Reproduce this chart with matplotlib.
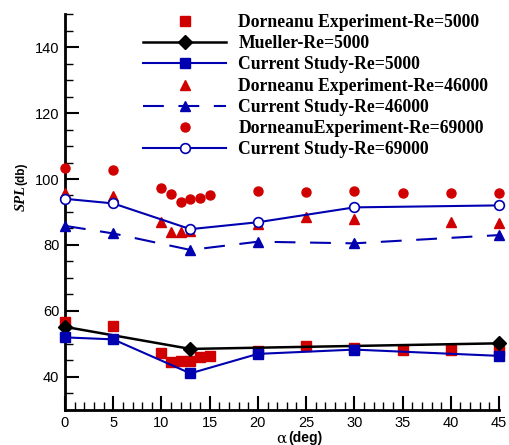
import matplotlib
matplotlib.use("Agg")
import matplotlib.pyplot as plt
from matplotlib.ticker import MultipleLocator

RED = "#d00000"
BLUE = "#0000b0"

# Re = 5000
exp5_alpha = [0, 5, 10, 11, 12, 13, 14, 15, 20, 25, 30, 35, 40, 45]
exp5_spl = [56.8, 55.4, 47.4, 44.4, 44.8, 44.8, 46.0, 46.3, 48.0, 49.3, 48.7, 48.2, 48.3, 48.0]
mueller_alpha = [0, 13, 45]
mueller_spl = [55.2, 48.5, 50.2]
cur5_alpha = [0, 5, 13, 20, 30, 45]
cur5_spl = [52.0, 51.4, 41.1, 47.0, 48.3, 46.4]

# Re = 46000
exp46_alpha = [0, 5, 10, 11, 12, 13, 20, 25, 30, 40, 45]
exp46_spl = [95.7, 94.8, 87.1, 84.0, 84.0, 84.3, 86.5, 88.6, 87.8, 87.1, 86.8]
cur46_alpha = [0, 5, 13, 20, 30, 45]
cur46_spl = [85.8, 83.5, 78.5, 81.0, 80.5, 83.0]

# Re = 69000
exp69_alpha = [0, 5, 10, 11, 12, 13, 14, 15, 20, 25, 30, 35, 40, 45]
exp69_spl = [103.2, 102.7, 97.4, 95.4, 93.0, 93.9, 94.2, 95.2, 96.5, 96.2, 96.4, 95.7, 95.7, 95.8]
cur69_alpha = [0, 5, 13, 20, 30, 45]
cur69_spl = [94.0, 92.6, 84.8, 86.9, 91.4, 92.0]

fig = plt.figure(figsize=(5.09, 4.45), dpi=100)
ax = fig.add_axes([0.1277, 0.0787, 0.8527, 0.8898])

ax.plot(exp5_alpha, exp5_spl, ls="none", marker="s", ms=7, color=RED,
        label="Dorneanu Experiment-Re=5000", clip_on=False, zorder=3)
ax.plot(mueller_alpha, mueller_spl, color="black", lw=1.8, marker="D", ms=7,
        label="Mueller-Re=5000", clip_on=False, zorder=4)
ax.plot(cur5_alpha, cur5_spl, color=BLUE, lw=1.5, marker="s", ms=7,
        label="Current Study-Re=5000", clip_on=False, zorder=4)
ax.plot(exp46_alpha, exp46_spl, ls="none", marker="^", ms=7, color=RED,
        label="Dorneanu Experiment-Re=46000", clip_on=False, zorder=3)
ax.plot(cur46_alpha, cur46_spl, color=BLUE, lw=1.5, ls=(0, (10, 7)), marker="^", ms=7,
        label="Current Study-Re=46000", clip_on=False, zorder=4)
ax.plot(exp69_alpha, exp69_spl, ls="none", marker="o", ms=6.5, color=RED,
        label="DorneanuExperiment-Re=69000", clip_on=False, zorder=3)
ax.plot(cur69_alpha, cur69_spl, color=BLUE, lw=1.5, marker="o", ms=7, mfc="white",
        mec=BLUE, mew=1.2, label="Current Study-Re=69000", clip_on=False, zorder=4)

ax.set_xlim(0, 45)
ax.set_ylim(30, 150)
ax.xaxis.set_major_locator(MultipleLocator(5))
ax.xaxis.set_minor_locator(MultipleLocator(1))
ax.yaxis.set_minor_locator(MultipleLocator(5))
ax.set_yticks([40, 60, 80, 100, 120, 140])

for s in ["top", "right"]:
    ax.spines[s].set_visible(False)
for s in ["left", "bottom"]:
    ax.spines[s].set_linewidth(2)

ax.tick_params(which="major", direction="in", length=10, width=1.5,
               labelsize=10.5, pad=4)
ax.tick_params(which="minor", direction="in", length=6, width=1)
for lab in ax.get_xticklabels() + ax.get_yticklabels():
    lab.set_family("Liberation Sans")

# axis titles built from two pieces (serif italic symbol + bold sans unit)
fig.text(0.042, 0.584, "SPL", rotation=90, fontsize=10.5, family="Liberation Serif",
         style="italic", weight="bold", ha="center", va="top")
fig.text(0.042, 0.584, "(db)", rotation=90, fontsize=8.5, family="Liberation Sans",
         weight="bold", ha="center", va="bottom")
fig.text(0.563, 0.006, "\u03b1", fontsize=11, family="DejaVu Serif",
         ha="right", va="baseline")
fig.text(0.566, 0.006, "(deg)", fontsize=10, family="Liberation Sans", weight="bold",
         ha="left", va="baseline")

ax.legend(loc="upper left", bbox_to_anchor=(0.18, 1.0), frameon=False,
          handlelength=4.7, handletextpad=0.7, labelspacing=0.24,
          prop={"family": "Liberation Serif", "weight": "bold", "size": 12.7},
          borderpad=0, borderaxespad=0)

fig.savefig("out.png", dpi=100)
